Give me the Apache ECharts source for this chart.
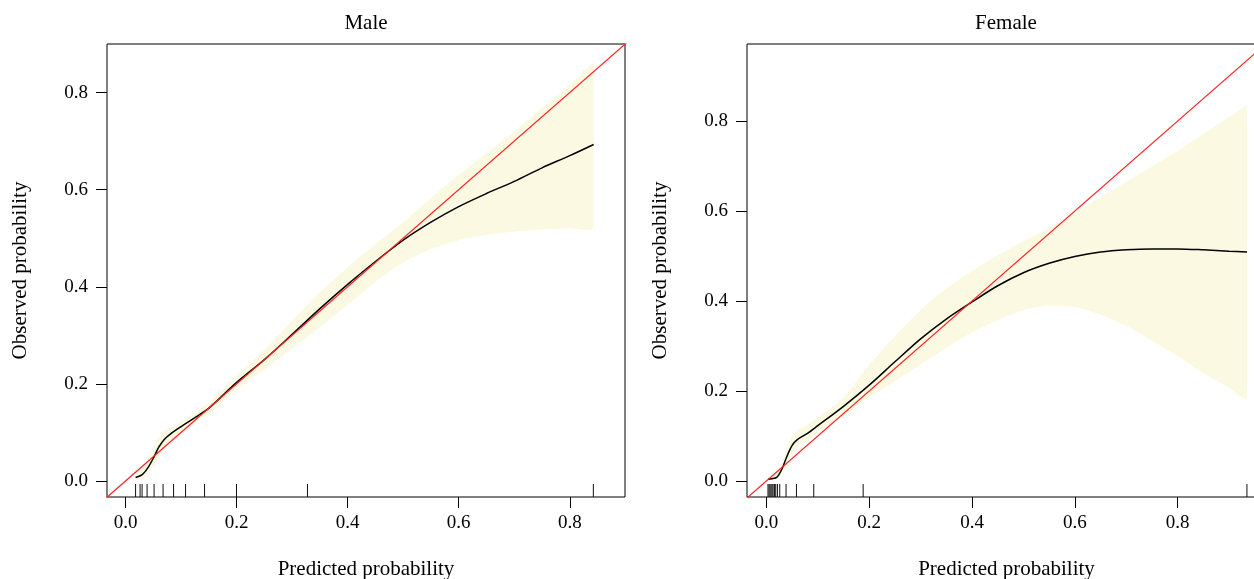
<!DOCTYPE html>
<html>
<head>
<meta charset="utf-8">
<script src="https://cdn.jsdelivr.net/npm/echarts@6/dist/echarts.min.js"></script>
<style>
html,body{margin:0;padding:0;background:#fff;}
#chart{width:1254px;height:579px;}
</style>
</head>
<body>
<div id="chart"></div>
<script>
// ---------- Male ----------
const maleX     = [0.018, 0.03, 0.04, 0.05, 0.06, 0.07, 0.08, 0.10, 0.12, 0.15, 0.20, 0.25, 0.30, 0.35, 0.40, 0.45, 0.50, 0.55, 0.60, 0.65, 0.70, 0.75, 0.80, 0.843];
const maleCurve = [0.007, 0.013, 0.027, 0.047, 0.070, 0.086, 0.096, 0.112, 0.127, 0.150, 0.203, 0.250, 0.302, 0.355, 0.405, 0.452, 0.496, 0.533, 0.565, 0.592, 0.617, 0.645, 0.670, 0.693];
const maleUpper = [0.018, 0.030, 0.045, 0.070, 0.090, 0.103, 0.110, 0.123, 0.137, 0.162, 0.218, 0.270, 0.330, 0.388, 0.440, 0.488, 0.533, 0.583, 0.630, 0.675, 0.720, 0.768, 0.816, 0.863];
const maleLower = [0.000, 0.005, 0.015, 0.030, 0.050, 0.068, 0.080, 0.098, 0.115, 0.138, 0.188, 0.230, 0.273, 0.317, 0.363, 0.410, 0.450, 0.478, 0.496, 0.507, 0.514, 0.518, 0.520, 0.521];
const maleRug   = [0.018, 0.0261, 0.0297, 0.0387, 0.0513, 0.0675, 0.0864, 0.108, 0.1422, 0.1998, 0.3276, 0.8425];

// ---------- Female ----------
const femaleX     = [0.003, 0.01, 0.02, 0.03, 0.04, 0.05, 0.06, 0.08, 0.10, 0.15, 0.20, 0.25, 0.30, 0.35, 0.40, 0.45, 0.50, 0.55, 0.60, 0.65, 0.70, 0.75, 0.80, 0.85, 0.90, 0.935];
const femaleCurve = [0.004, 0.005, 0.008, 0.026, 0.055, 0.079, 0.092, 0.106, 0.123, 0.166, 0.213, 0.265, 0.316, 0.360, 0.398, 0.434, 0.463, 0.484, 0.499, 0.509, 0.514, 0.516, 0.516, 0.514, 0.511, 0.509];
const femaleUpper = [0.009, 0.012, 0.020, 0.040, 0.075, 0.100, 0.113, 0.125, 0.141, 0.186, 0.258, 0.322, 0.380, 0.428, 0.467, 0.502, 0.533, 0.563, 0.597, 0.631, 0.665, 0.699, 0.734, 0.771, 0.809, 0.836];
const femaleLower = [0.001, 0.002, 0.005, 0.014, 0.035, 0.062, 0.078, 0.090, 0.108, 0.146, 0.185, 0.222, 0.259, 0.296, 0.330, 0.358, 0.380, 0.390, 0.387, 0.370, 0.345, 0.312, 0.278, 0.240, 0.207, 0.183];
const femaleRug   = [0.003, 0.0051, 0.007, 0.009, 0.011, 0.013, 0.0156, 0.0181, 0.0214, 0.0259, 0.0382, 0.0584, 0.0921, 0.1882, 0.9349];

// ---------- Axes ----------
const tickValues = [0, 0.2, 0.4, 0.6, 0.8];
const maleXRange = [-0.0335, 0.8995];
const maleYRange = [-0.033, 0.900];
const femaleXRange = [-0.0378, 0.972];
const femaleYRange = [-0.0356, 0.9715];
const titles = ['Male', 'Female'];
const xTitle = 'Predicted probability';
const yTitle = 'Observed probability';

const FONT = 'Liberation Serif';
const FS = 19;
const FS_T = 21;
const BAND = '#FBF9E1';

function zip(xs, ys) { return xs.map((x, i) => [x, ys[i]]); }

function xAxisDef(idx, range) {
  return {
    type: 'value', gridIndex: idx, min: range[0], max: range[1],
    axisLine: { show: false, onZero: false },
    axisTick: { show: true, inside: false, length: 11, customValues: tickValues, lineStyle: { color: '#000', width: 1 } },
    axisLabel: { customValues: tickValues, formatter: v => v.toFixed(1), margin: 17, fontSize: FS, color: '#000', fontFamily: FONT },
    splitLine: { show: false },
    name: xTitle, nameLocation: 'middle', nameGap: 62,
    nameTextStyle: { fontSize: FS_T, color: '#000', fontFamily: FONT }
  };
}
function yAxisDef(idx, range) {
  return {
    type: 'value', gridIndex: idx, min: range[0], max: range[1],
    axisLine: { show: false, onZero: false },
    axisTick: { show: true, inside: false, length: 11, customValues: tickValues, lineStyle: { color: '#000', width: 1 } },
    axisLabel: { customValues: tickValues, formatter: v => v.toFixed(1), margin: 19, fontSize: FS, color: '#000', fontFamily: FONT },
    splitLine: { show: false },
    name: yTitle, nameLocation: 'middle', nameGap: 76,
    nameTextStyle: { fontSize: FS_T, color: '#000', fontFamily: FONT }
  };
}

function bandSeries(idx, xs, up, lo) {
  const pts = zip(xs, up).concat(zip(xs, lo).reverse());
  return {
    type: 'custom', xAxisIndex: idx, yAxisIndex: idx, z: 1, silent: true,
    data: [[xs[0], lo[0]]],
    renderItem: function (params, api) {
      const c = pts.map(p => api.coord(p));
      const xsP = c.map(p => p[0]), ysP = c.map(p => p[1]);
      const cons = [[Math.min.apply(null, xsP), Math.min.apply(null, ysP)], [Math.max.apply(null, xsP), Math.max.apply(null, ysP)]];
      return { type: 'polygon', shape: { points: c, smooth: 0.2, smoothConstraint: cons }, style: { fill: BAND, stroke: null } };
    }
  };
}
function rugSeries(idx, vals, yMin) {
  return {
    type: 'custom', xAxisIndex: idx, yAxisIndex: idx, z: 3, silent: true,
    data: vals.map(v => [v, yMin]),
    renderItem: function (params, api) {
      const p = api.coord([api.value(0), api.value(1)]);
      return { type: 'line', shape: { x1: p[0], y1: p[1], x2: p[0], y2: p[1] - 13 }, style: { stroke: '#111', lineWidth: 1 } };
    }
  };
}
function curveSeries(idx, xs, ys) {
  return {
    type: 'line', xAxisIndex: idx, yAxisIndex: idx, z: 4, data: zip(xs, ys),
    showSymbol: false, smooth: 0.3, lineStyle: { color: '#000', width: 1.5 }, silent: true
  };
}
function diagSeries(idx) {
  return {
    type: 'line', xAxisIndex: idx, yAxisIndex: idx, z: 5, data: [[-0.1, -0.1], [1.1, 1.1]],
    showSymbol: false, clip: true, lineStyle: { color: '#FF2020', width: 1.2 }, silent: true
  };
}

const chart = echarts.init(document.getElementById('chart'), null, { renderer: 'canvas' });
chart.setOption({
  backgroundColor: '#fff',
  animation: false,
  textStyle: { fontFamily: FONT },
  graphic: [
    { type: 'text', x: 366, y: 23, style: { text: titles[0], fill: '#000', font: FS_T + 'px "' + FONT + '"', textAlign: 'center', textVerticalAlign: 'middle' } },
    { type: 'text', x: 1006, y: 23, style: { text: titles[1], fill: '#000', font: FS_T + 'px "' + FONT + '"', textAlign: 'center', textVerticalAlign: 'middle' } }
  ],
  grid: [
    { left: 107, top: 44, width: 518, height: 453, show: true, borderColor: '#000', borderWidth: 1, backgroundColor: 'transparent', containLabel: false, outerBoundsMode: 'none' },
    { left: 747, top: 44, width: 519, height: 453, show: true, borderColor: '#000', borderWidth: 1, backgroundColor: 'transparent', containLabel: false, outerBoundsMode: 'none' }
  ],
  xAxis: [xAxisDef(0, maleXRange), xAxisDef(1, femaleXRange)],
  yAxis: [yAxisDef(0, maleYRange), yAxisDef(1, femaleYRange)],
  series: [
    bandSeries(0, maleX, maleUpper, maleLower),
    rugSeries(0, maleRug, maleYRange[0]),
    curveSeries(0, maleX, maleCurve),
    diagSeries(0),
    bandSeries(1, femaleX, femaleUpper, femaleLower),
    rugSeries(1, femaleRug, femaleYRange[0]),
    curveSeries(1, femaleX, femaleCurve),
    diagSeries(1)
  ]
});
</script>
</body>
</html>
